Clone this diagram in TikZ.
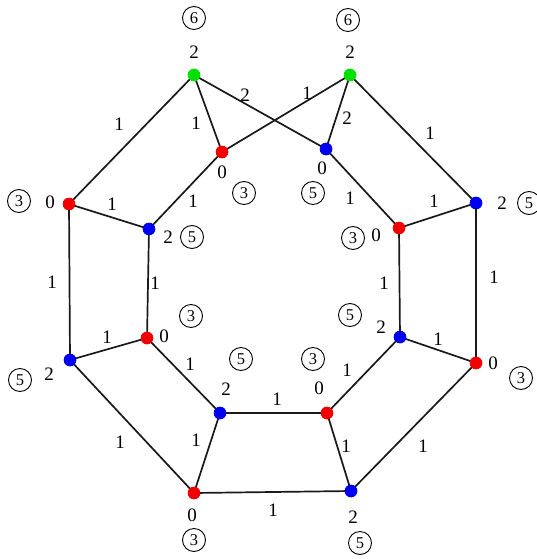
\documentclass[tikz,border=0pt]{standalone}
\usepackage{fontspec}
\setmainfont{Liberation Serif}
\definecolor{vred}{RGB}{240,0,0}
\definecolor{vblue}{RGB}{0,0,240}
\definecolor{vgreen}{RGB}{0,225,0}
\begin{document}
\begin{tikzpicture}[x=1pt,y=-1pt,
  vtx/.style={circle,inner sep=0pt,minimum size=12.5pt},
  rv/.style={vtx,fill=vred},
  bv/.style={vtx,fill=vblue},
  gv/.style={vtx,fill=vgreen},
  edge/.style={line width=1.7pt,black!90},
  lbl/.style={font=\fontsize{19}{19}\selectfont,inner sep=0pt},
  cnum/.style={circle,draw,line width=0.9pt,inner sep=0pt,minimum size=23pt,font=\fontsize{16.5}{16.5}\selectfont}
]
\useasboundingbox (0,0) rectangle (536,559);
% vertices
\node[gv] (G1) at (194,75) {};
\node[gv] (G2) at (350,75) {};
\node[rv] (Ra) at (222,152) {};
\node[bv] (Ba) at (326,149) {};
\node[rv] (L0) at (69,204) {};
\node[bv] (Bb) at (149,229) {};
\node[rv] (Rb) at (399,228) {};
\node[bv] (Bc) at (476,203) {};
\node[bv] (Bd) at (70,360) {};
\node[rv] (Rc) at (147,338) {};
\node[bv] (Be) at (400,337) {};
\node[rv] (Rd) at (476,363) {};
\node[bv] (Bf) at (220,413) {};
\node[rv] (Re) at (327,413) {};
\node[rv] (Rf) at (194,493) {};
\node[bv] (Bg) at (351,491) {};
% edges
\draw[edge] (G1.center) -- (L0.center);
\draw[edge] (G1.center) -- (Ra.center);
\draw[edge] (G1.center) -- (Ba.center);
\draw[edge] (Ra.center) -- (G2.center);
\draw[edge] (G2.center) -- (Ba.center);
\draw[edge] (G2.center) -- (Bc.center);
\draw[edge] (L0.center) -- (Bb.center);
\draw[edge] (Ra.center) -- (Bb.center);
\draw[edge] (Ba.center) -- (Rb.center);
\draw[edge] (Rb.center) -- (Bc.center);
\draw[edge] (L0.center) -- (Bd.center);
\draw[edge] (Bb.center) -- (Rc.center);
\draw[edge] (Rb.center) -- (Be.center);
\draw[edge] (Bc.center) -- (Rd.center);
\draw[edge] (Bd.center) -- (Rc.center);
\draw[edge] (Rc.center) -- (Bf.center);
\draw[edge] (Be.center) -- (Rd.center);
\draw[edge] (Be.center) -- (Re.center);
\draw[edge] (Bd.center) -- (Rf.center);
\draw[edge] (Bf.center) -- (Re.center);
\draw[edge] (Bf.center) -- (Rf.center);
\draw[edge] (Re.center) -- (Bg.center);
\draw[edge] (Rd.center) -- (Bg.center);
\draw[edge] (Rf.center) -- (Bg.center);
% redraw vertices on top
\foreach \n/\s in {G1/gv,G2/gv,Ra/rv,Ba/bv,L0/rv,Bb/bv,Rb/rv,Bc/bv,Bd/bv,Rc/rv,Be/bv,Rd/rv,Bf/bv,Re/rv,Rf/rv,Bg/bv}
  \node[\s] at (\n) {};
% edge labels
\node[lbl] (e1) at (119,124) {1};
\node[lbl] (e2) at (196,123) {1};
\node[lbl] (e3) at (245,95) {2};
\node[lbl] (e4) at (307,93) {1};
\node[lbl] (e5) at (347,118) {2};
\node[lbl] (e6) at (430,133) {1};
\node[lbl] (e7) at (112,204) {1};
\node[lbl] (e8) at (193,201) {1};
\node[lbl] (e9) at (350,198) {1};
\node[lbl] (e10) at (434,201) {1};
\node[lbl] (e11) at (52,282) {1};
\node[lbl] (e12) at (155,283) {1};
\node[lbl] (e13) at (384,283) {1};
\node[lbl] (e14) at (494,277) {1};
\node[lbl] (e15) at (107,337) {1};
\node[lbl] (e16) at (190,364) {1};
\node[lbl] (e17) at (347,370) {1};
\node[lbl] (e18) at (438,339) {1};
\node[lbl] (e19) at (120,442) {1};
\node[lbl] (e20) at (196,440) {1};
\node[lbl] (e21) at (277,399) {1};
\node[lbl] (e22) at (346,446) {1};
\node[lbl] (e23) at (423,446) {1};
\node[lbl] (e24) at (273,510) {1};
% vertex values
\node[lbl] (vG1) at (194,52) {2};
\node[lbl] (vG2) at (350,52) {2};
\node[lbl] (vRa) at (222,172) {0};
\node[lbl] (vBa) at (322,168) {0};
\node[lbl] (vL0) at (50,202) {0};
\node[lbl] (vBb) at (168,237) {2};
\node[lbl] (vRb) at (376,235) {0};
\node[lbl] (vBc) at (502,203) {2};
\node[lbl] (vRc) at (164,336) {0};
\node[lbl] (vBd) at (49,374) {2};
\node[lbl] (vBe) at (381,327) {2};
\node[lbl] (vRd) at (493,363) {0};
\node[lbl] (vBf) at (226,389) {2};
\node[lbl] (vRe) at (319,388) {0};
\node[lbl] (vRf) at (192,515) {0};
\node[lbl] (vBg) at (353,517) {2};
% circled numbers
\node[cnum] (cG1) at (194,18) {6};
\node[cnum] (cG2) at (348,20) {6};
\node[cnum] (cRa) at (244,193) {3};
\node[cnum] (cBa) at (313,193) {5};
\node[cnum] (cL0) at (19,201) {3};
\node[cnum] (cBb) at (192,237) {5};
\node[cnum] (cRb) at (353,238) {3};
\node[cnum] (cBc) at (529,203) {5};
\node[cnum] (cRc) at (191,316) {3};
\node[cnum] (cBd) at (20,380) {5};
\node[cnum] (cBe) at (350,315) {5};
\node[cnum] (cRd) at (521,378) {3};
\node[cnum] (cBf) at (241,359) {5};
\node[cnum] (cRe) at (313,359) {3};
\node[cnum] (cRf) at (194,540) {3};
\node[cnum] (cBg) at (360,543) {5};
\end{tikzpicture}
\end{document}
